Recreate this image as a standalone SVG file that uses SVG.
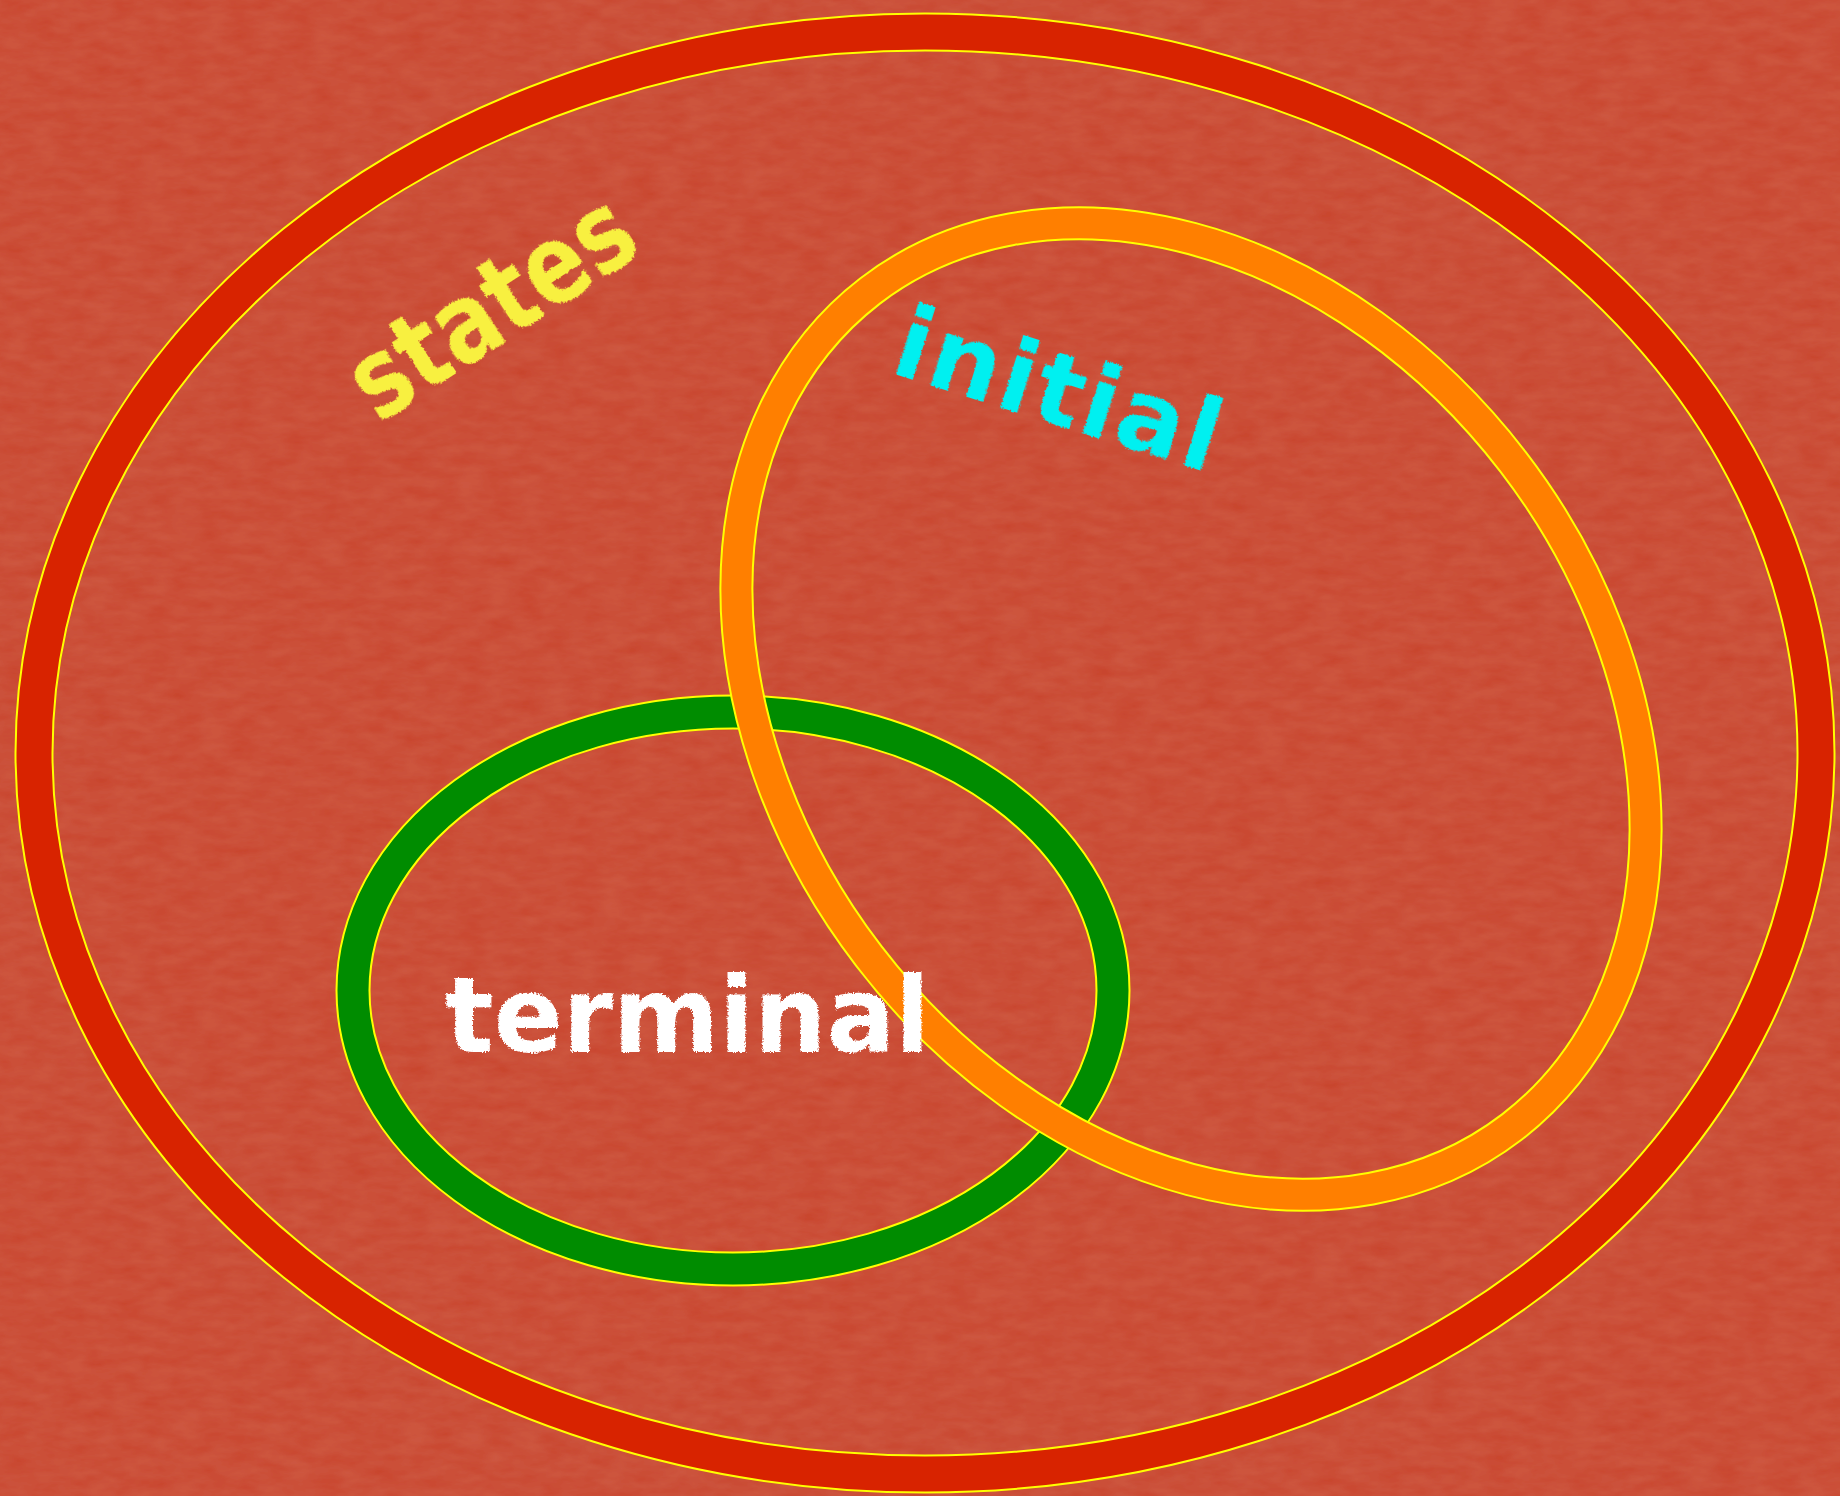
<svg xmlns="http://www.w3.org/2000/svg" width="1840" height="1496" viewBox="0 0 1840 1496">
  <defs>
    <filter id="paper" x="0" y="0" width="100%" height="100%">
      <feTurbulence type="fractalNoise" baseFrequency="0.035 0.09" numOctaves="3" seed="4" result="n"/>
      <feColorMatrix in="n" type="matrix" values="0 0 0 0 0.74  0 0 0 0 0.24  0 0 0 0 0.15  0 0 0 0.25 0" result="c"/>
      <feComposite in="c" in2="SourceGraphic" operator="over"/>
    </filter>
    <filter id="chalk" x="-10%" y="-20%" width="120%" height="140%">
      <feTurbulence type="fractalNoise" baseFrequency="0.6" numOctaves="2" seed="7" result="t"/>
      <feDisplacementMap in="SourceGraphic" in2="t" scale="4" xChannelSelector="R" yChannelSelector="G"/>
    </filter>
    <style>
      .edge { fill: none; stroke: #ffff00; }
      .red { fill: none; stroke: #d82300; stroke-width: 35; }
      .green { fill: none; stroke: #008c00; stroke-width: 31; }
      .orange { fill: none; stroke: #ff7f00; stroke-width: 30; }
      .lbl { font-family: "DejaVu Sans", "Liberation Sans", sans-serif; font-weight: bold; filter: url(#chalk); }
    </style>
  </defs>

  <rect width="1840" height="1496" fill="#c8432b" filter="url(#paper)"/>

  <g id="states">
    <ellipse class="edge" cx="925" cy="753" rx="891" ry="721" stroke-width="39"/>
    <ellipse class="red" cx="925" cy="753" rx="891" ry="721"/>
    <text class="lbl" x="0" y="0" font-size="110" fill="#f8f040" textLength="318" lengthAdjust="spacingAndGlyphs" transform="translate(378 424) rotate(-33)">states</text>
  </g>

  <g id="terminal">
    <ellipse class="edge" cx="733" cy="990.5" rx="380" ry="278.5" stroke-width="35"/>
    <ellipse class="green" cx="733" cy="990.5" rx="380" ry="278.5"/>
  </g>

  <g id="initial">
    <ellipse class="edge" cx="1191" cy="709" rx="527" ry="406" stroke-width="34" transform="rotate(52.5 1191 709)"/>
    <ellipse class="orange" cx="1191" cy="709" rx="527" ry="406" transform="rotate(52.5 1191 709)"/>
    <text class="lbl" x="0" y="0" font-size="100" fill="#00f0f0" textLength="336" lengthAdjust="spacing" transform="translate(888 372) rotate(17.5)">initial</text>
  </g>

  <g id="terminal-label">
    <text class="lbl" x="445" y="1052" font-size="106" fill="#ffffff" textLength="485" lengthAdjust="spacingAndGlyphs">terminal</text>
  </g>

  <g id="connectors"/>
</svg>
